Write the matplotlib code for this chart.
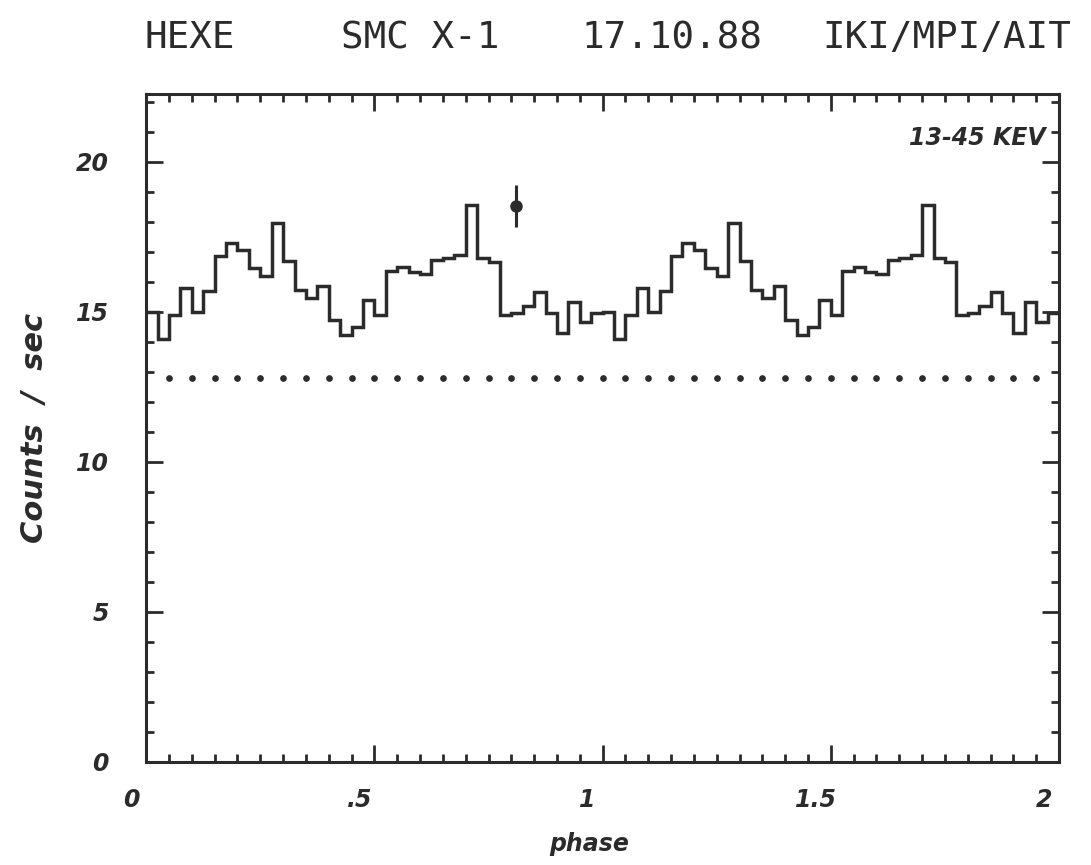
'''HEXE light curve of SMC X-1 folded on the pulse period'''

import numpy as np
import matplotlib.pyplot as plt
from matplotlib.transforms import ScaledTranslation

# counts/sec in 40 phase bins, one pulse period
phase_counts = [15.0, 14.1, 14.9, 15.8, 15.0, 15.7, 16.85, 17.3, 17.05, 16.45,
                16.2, 17.95, 16.7, 15.73, 15.47, 15.87, 14.73, 14.22, 14.5, 15.4,
                14.9, 16.35, 16.5, 16.33, 16.25, 16.72, 16.8, 16.9, 18.57, 16.78,
                16.66, 14.9, 14.95, 15.2, 15.65, 14.95, 14.3, 15.33, 14.66, 14.95]
n_periods = 2
background_level = 12.8
err_phase = 0.81
err_value = 18.53
err_size = 0.7

x_ticks = [0, 0.5, 1, 1.5, 2]
x_tick_labels = ['0', '.5', '1', '1.5', '2']
y_ticks = [0, 5, 10, 15, 20]
y_tick_labels = ['0', '5', '10', '15', '20']

INK = '#2b2b2b'
LABEL_FONT = dict(family='DejaVu Sans', style='italic', weight='bold', color=INK)

fig = plt.figure(figsize=(10.91, 8.65), dpi=100)
ax = fig.add_axes([0.134, 0.1191, 0.8367, 0.7722])

# the folded curve is drawn over two periods
counts = np.concatenate([phase_counts] * n_periods)
edges = np.linspace(0, n_periods, len(counts) + 1)
ax.stairs(counts, edges, color=INK, linewidth=2.5, baseline=None)

dots = np.arange(0.05, n_periods - 0.049, 0.05)
ax.plot(dots, np.full(len(dots), background_level), linestyle='none',
        marker='o', markersize=3.8, color=INK)

ax.errorbar([err_phase], [err_value], yerr=[err_size], fmt='o', markersize=8,
            color=INK, ecolor=INK, elinewidth=2.2, capsize=0)

ax.set_xlim(0, 2)
ax.set_ylim(0, 22.25)

ax.set_xticks(x_ticks)
ax.set_xticklabels(x_tick_labels, fontsize=17, **LABEL_FONT)
ax.set_xticks(np.arange(0, 2.001, 0.05), minor=True)
ax.set_yticks(y_ticks)
ax.set_yticklabels(y_tick_labels, fontsize=17, **LABEL_FONT)
ax.set_yticks(np.arange(0, 22.1, 1), minor=True)

ax.tick_params(axis='both', which='both', direction='in', top=True, right=True,
               color=INK, width=2)
ax.tick_params(axis='both', which='major', length=12)
ax.tick_params(axis='both', which='minor', length=5.5)
ax.tick_params(axis='x', which='major', pad=19)
ax.tick_params(axis='y', which='major', pad=27)

for label in ax.get_xticklabels():
    label.set_transform(label.get_transform()
                        + ScaledTranslation(-0.15, 0, fig.dpi_scale_trans))

for spine in ax.spines.values():
    spine.set_linewidth(2.2)
    spine.set_color(INK)

ax.text(0.985, 0.934, '13-45 KEV', transform=ax.transAxes, ha='right',
        va='center', fontsize=17, **LABEL_FONT)

fig.text(0.54, 0.024, 'phase', ha='center', va='center', fontsize=17, **LABEL_FONT)
fig.text(0.032, 0.505, 'Counts  /  sec', ha='center', va='center', rotation=90,
         fontsize=22, **LABEL_FONT)

# header line as printed by the plotter
for word, xpos in [('HEXE', 190), ('SMC X-1', 420), ('17.10.88', 672),
                   ('IKI/MPI/AIT', 947)]:
    fig.text(xpos / 1091, 0.956, word, ha='center', va='center',
             family='DejaVu Sans Mono', fontsize=27, color=INK)

fig.savefig('out.png', dpi=100)
